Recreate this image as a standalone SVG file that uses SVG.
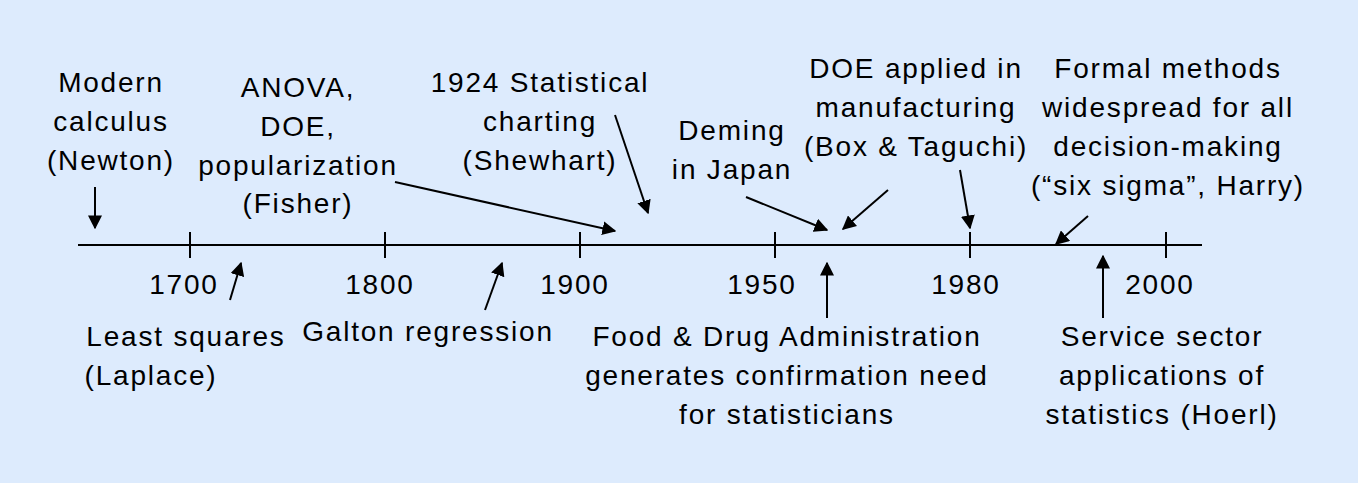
<svg xmlns="http://www.w3.org/2000/svg" width="1358" height="483" viewBox="0 0 1358 483">
<style>
text{font-family:"Liberation Sans",Arial,sans-serif;font-size:28px;letter-spacing:1.8px;fill:#000;text-anchor:middle}
.c line{stroke:#000;stroke-width:2}
</style>
<defs><marker id="ah2" viewBox="0 0 10 10" refX="9" refY="5" markerWidth="14" markerHeight="14" markerUnits="userSpaceOnUse" orient="auto"><path d="M0,0L10,5L0,10z" fill="#000"/></marker></defs>
<rect width="1358" height="483" fill="#DDEBFD"/>
<g class="c" id="connectors">
<line x1="78" y1="245" x2="1202" y2="245"/>
<line x1="190" y1="232" x2="190" y2="258"/><line x1="385" y1="232" x2="385" y2="258"/><line x1="580" y1="232" x2="580" y2="258"/><line x1="775" y1="232" x2="775" y2="258"/><line x1="970" y1="232" x2="970" y2="258"/><line x1="1166" y1="232" x2="1166" y2="258"/>
<g style="marker-end:url(#ah2)">
<line x1="95" y1="187" x2="95" y2="228"/>
<line x1="395" y1="182" x2="615" y2="231"/>
<line x1="615" y1="115" x2="648" y2="213"/>
<line x1="746" y1="197" x2="827" y2="230"/>
<line x1="888" y1="190" x2="843" y2="229"/>
<line x1="960" y1="170" x2="970" y2="228"/>
<line x1="1088" y1="216" x2="1056" y2="244"/>
<line x1="230" y1="300" x2="241" y2="263"/>
<line x1="485" y1="310" x2="502" y2="263"/>
<line x1="827" y1="318" x2="827" y2="263"/>
<line x1="1103" y1="318" x2="1103" y2="256"/>
</g></g>
<g id="years"><text x="184" y="294">1700</text><text x="380" y="294">1800</text><text x="575" y="294">1900</text><text x="762" y="294">1950</text><text x="966" y="294">1980</text><text x="1160" y="294">2000</text></g>
<g id="newton"><text x="111" y="92">Modern</text><text x="111" y="131">calculus</text><text x="111" y="170">(Newton)</text></g>
<g id="fisher"><text x="298" y="97">ANOVA,</text><text x="298" y="136">DOE,</text><text x="298" y="175">popularization</text><text x="298" y="213">(Fisher)</text></g>
<g id="shewhart"><text x="540" y="92">1924 Statistical</text><text x="540" y="131">charting</text><text x="540" y="170">(Shewhart)</text></g>
<g id="deming"><text x="732" y="140">Deming</text><text x="732" y="179">in Japan</text></g>
<g id="box"><text x="916" y="78">DOE applied in</text><text x="916" y="117">manufacturing</text><text x="916" y="156">(Box &amp; Taguchi)</text></g>
<g id="harry"><text x="1168" y="78">Formal methods</text><text x="1168" y="117">widespread for all</text><text x="1168" y="156">decision-making</text><text x="1168" y="195">(“six sigma”, Harry)</text></g>
<g id="laplace"><text x="186" y="346">Least squares</text><text x="151" y="385">(Laplace)</text></g>
<g id="galton"><text x="428" y="341">Galton regression</text></g>
<g id="fda"><text x="787" y="346">Food &amp; Drug Administration</text><text x="787" y="385">generates confirmation need</text><text x="787" y="424">for statisticians</text></g>
<g id="hoerl"><text x="1162" y="346">Service sector</text><text x="1162" y="385">applications of</text><text x="1162" y="424">statistics (Hoerl)</text></g>
</svg>
